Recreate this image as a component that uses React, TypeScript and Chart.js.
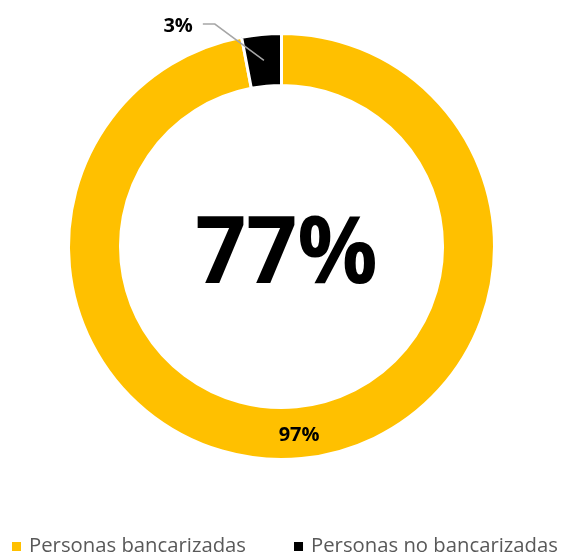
import React, { useEffect, useRef } from "react";
import { Chart, registerables } from "chart.js";

Chart.register(...registerables);

const categories = ["Personas bancarizadas", "Personas no bancarizadas"];
const values = [97, 3];
const colors = ["#FFC000", "#000000"];
const centerValue = 77;

const FONT = "'Open Sans', 'DejaVu Sans', sans-serif";

export default function App() {
  const ref = useRef<HTMLCanvasElement>(null);

  useEffect(() => {
    const canvas = ref.current;
    if (!canvas) return;
    const total = values.reduce((a, b) => a + b, 0);

    const labelPlugin = {
      id: "sliceLabels",
      afterDatasetsDraw(chart: any) {
        const ctx = chart.ctx as CanvasRenderingContext2D;
        const meta = chart.getDatasetMeta(0);
        ctx.save();
        let cx = 0;
        let cy = 0;
        meta.data.forEach((arc: any, i: number) => {
          const p = arc.getProps(
            ["x", "y", "startAngle", "endAngle", "innerRadius", "outerRadius"],
            true
          );
          cx = p.x;
          cy = p.y;
          const mid = (p.startAngle + p.endAngle) / 2;
          const rMid = (p.innerRadius + p.outerRadius) / 2;
          const share = values[i] / total;
          const text = Math.round(share * 100) + "%";
          ctx.font = `bold 20px ${FONT}`;
          ctx.fillStyle = "#000000";
          ctx.textBaseline = "alphabetic";
          const sx = p.x + Math.cos(mid) * rMid;
          const sy = p.y + Math.sin(mid) * rMid;
          if (share > 0.1) {
            ctx.textAlign = "center";
            ctx.fillText(text, sx, sy + 8);
          } else {
            const ea = mid - 0.197;
            const er = p.outerRadius * 1.09;
            const ex = p.x + Math.cos(ea) * er;
            const ey = p.y + Math.sin(ea) * er;
            ctx.strokeStyle = "#A6A6A6";
            ctx.lineWidth = 1.5;
            ctx.beginPath();
            ctx.moveTo(sx, sy);
            ctx.lineTo(ex, ey);
            ctx.lineTo(ex - 12, ey);
            ctx.stroke();
            ctx.textAlign = "right";
            ctx.fillText(text, ex - 22, ey + 8);
          }
        });
        ctx.font = `bold 94px ${FONT}`;
        ctx.textAlign = "center";
        ctx.textBaseline = "alphabetic";
        ctx.fillStyle = "#000000";
        ctx.translate(cx + 5, cy + 36);
        ctx.scale(0.95, 1);
        ctx.fillText(centerValue + "%", 0, 0);
        ctx.restore();
      },
    };

    const legendPlugin = {
      id: "bottomLegend",
      afterDraw(chart: any) {
        const ctx = chart.ctx as CanvasRenderingContext2D;
        ctx.save();
        ctx.font = `20.3px ${FONT}`;
        ctx.textAlign = "left";
        ctx.textBaseline = "alphabetic";
        const baseline = chart.height - 4;
        const box = 9;
        let x = 12;
        categories.forEach((label, i) => {
          ctx.fillStyle = colors[i];
          ctx.fillRect(x, baseline - 10, box, box);
          x += box + 8;
          ctx.fillStyle = "#595959";
          ctx.fillText(label, x, baseline);
          x += ctx.measureText(label).width + 48;
        });
        ctx.restore();
      },
    };

    const chart = new Chart(canvas, {
      type: "doughnut",
      data: {
        labels: categories,
        datasets: [
          {
            data: values,
            backgroundColor: colors,
            borderColor: "#FFFFFF",
            borderWidth: 3,
          },
        ],
      },
      options: {
        animation: false,
        responsive: false,
        devicePixelRatio: 1,
        events: [],
        radius: 213,
        cutout: "75.6%",
        layout: { padding: { top: 33, bottom: 96, left: 0, right: 0 } },
        plugins: {
          legend: { display: false },
          tooltip: { enabled: false },
        },
      } as any,
      plugins: [labelPlugin, legendPlugin],
    });

    return () => chart.destroy();
  }, []);

  return (
    <div
      style={{
        position: "fixed",
        left: 0,
        top: 0,
        width: 563,
        height: 556,
        background: "#FFFFFF",
      }}
    >
      <canvas ref={ref} width={563} height={556} />
    </div>
  );
}
